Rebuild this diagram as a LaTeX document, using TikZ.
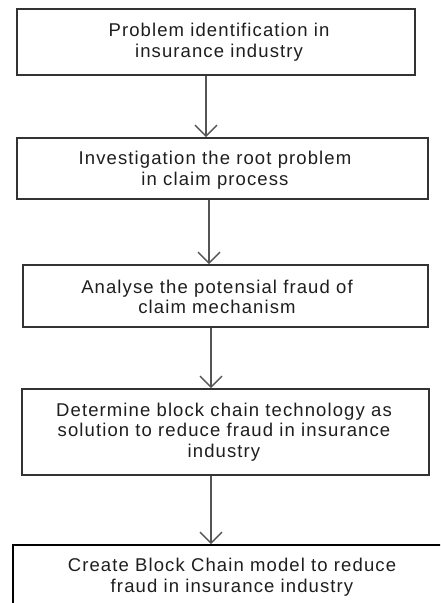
\documentclass[tikz,border=0pt]{standalone}
\usepackage{fontspec}
\setmainfont{Liberation Sans}[LetterSpace=6]
\usetikzlibrary{arrows.meta}
\definecolor{boxline}{HTML}{333333}
\definecolor{arrline}{HTML}{555555}
\definecolor{txt}{HTML}{1E1E1E}
\begin{document}
\begin{tikzpicture}[x=1pt,y=-1pt,
  box/.style={draw=boxline,line width=1.7pt,rectangle,inner sep=0pt},
  lbl/.style={align=center,text=txt,font=\fontsize{18.5}{20.5}\selectfont,inner sep=0pt},
  arr/.style={draw=arrline,line width=1.6pt,-{Straight Barb[length=11pt,width=22pt,line width=1.4pt]}}]
\clip (0,0) rectangle (440,603);
\fill[white] (0,0) rectangle (440,603);
\node[box,minimum width=398pt,minimum height=66pt] (b1) at (216,42) {};
\node[box,minimum width=411pt,minimum height=61pt] (b2) at (222.5,168.5) {};
\node[box,minimum width=405pt,minimum height=62pt] (b3) at (225.5,296) {};
\node[box,minimum width=407pt,minimum height=86pt] (b4) at (225.5,432) {};
\node[box,line width=2pt,draw=black,minimum width=447pt,minimum height=95pt] (b5) at (236.5,592.5) {};
\node[lbl] (t1) at (219,42) {Problem identification in\\insurance industry};
\node[lbl] (t2) at (215,170) {Investigation the root problem\\in claim process};
\node[lbl] (t3) at (217,297) {Analyse the potensial fraud of\\claim mechanism};
\node[lbl] (t4) at (224,432) {Determine block chain technology as\\solution to reduce fraud in insurance\\industry};
\node[lbl] (t5) at (232,577) {Create Block Chain model to reduce\\fraud in insurance industry};
\coordinate (x1) at (206,0);
\coordinate (x2) at (209,0);
\coordinate (x3) at (211,0);
\coordinate (x4) at (211,0);
\draw[arr] (b1.south -| x1) -- (b2.north -| x1);
\draw[arr] (b2.south -| x2) -- (b3.north -| x2);
\draw[arr] (b3.south -| x3) -- (b4.north -| x3);
\draw[arr] (b4.south -| x4) -- (b5.north -| x4);
\end{tikzpicture}
\end{document}
